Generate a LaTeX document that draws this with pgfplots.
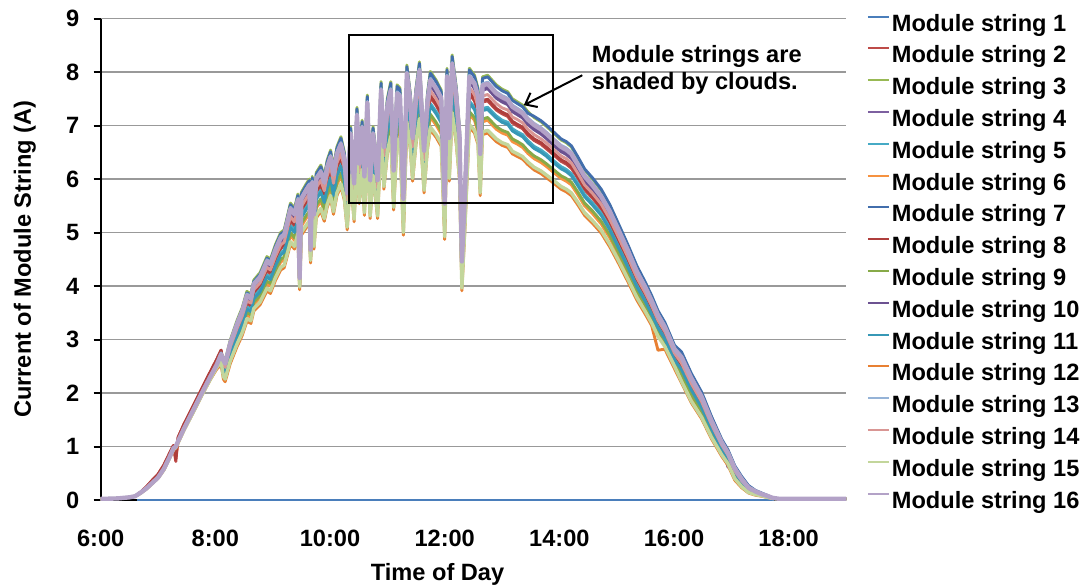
\documentclass[border=0pt]{standalone}
\usepackage{fontspec}
\setmainfont{Liberation Sans}
\usepackage{pgfplots}
\usepackage{pgfplotstable}
\pgfplotsset{compat=1.18}
\usetikzlibrary{arrows.meta}

% Excel 2007 style series colours
\definecolor{c1}{RGB}{74,126,187}
\definecolor{c2}{RGB}{190,75,72}
\definecolor{c3}{RGB}{152,185,84}
\definecolor{c4}{RGB}{125,96,160}
\definecolor{c5}{RGB}{70,170,197}
\definecolor{c6}{RGB}{246,146,64}
\definecolor{c7}{RGB}{66,110,172}
\definecolor{c8}{RGB}{175,62,60}
\definecolor{c9}{RGB}{135,170,72}
\definecolor{c10}{RGB}{108,82,145}
\definecolor{c11}{RGB}{55,152,182}
\definecolor{c12}{RGB}{232,128,50}
\definecolor{c13}{RGB}{149,179,215}
\definecolor{c14}{RGB}{217,150,148}
\definecolor{c15}{RGB}{195,214,155}
\definecolor{c16}{RGB}{179,162,199}

\newcommand{\chartfont}{\fontsize{11.8}{14}\selectfont\bfseries}

% string currents (A) over time of day (h); string 1 stays at zero
\pgfplotstableread{
t s2 s3 s4 s5 s6 s7 s8 s9 s10 s11 s12 s13 s14 s15 s16
6.00 0.02 0.02 0.02 0.02 0.02 0.02 0.02 0.02 0.02 0.02 0.02 0.02 0.02 0.02 0.02
6.30 0.03 0.03 0.03 0.03 0.03 0.03 0.03 0.03 0.03 0.03 0.03 0.03 0.03 0.03 0.03
6.50 0.05 0.05 0.05 0.05 0.05 0.05 0.05 0.05 0.05 0.05 0.05 0.05 0.05 0.05 0.05
6.60 0.07 0.07 0.07 0.07 0.07 0.07 0.07 0.07 0.07 0.07 0.07 0.07 0.07 0.07 0.07
6.70 0.15 0.14 0.14 0.14 0.13 0.14 0.15 0.14 0.14 0.14 0.13 0.14 0.14 0.13 0.14
6.80 0.25 0.22 0.22 0.22 0.21 0.22 0.25 0.22 0.22 0.22 0.21 0.22 0.22 0.21 0.22
6.90 0.37 0.32 0.32 0.32 0.31 0.32 0.37 0.32 0.32 0.32 0.31 0.32 0.32 0.31 0.32
7.00 0.48 0.42 0.42 0.42 0.41 0.42 0.48 0.42 0.42 0.42 0.41 0.42 0.42 0.41 0.42
7.10 0.65 0.58 0.58 0.58 0.56 0.58 0.65 0.58 0.58 0.58 0.56 0.58 0.58 0.56 0.58
7.20 0.87 0.80 0.80 0.80 0.78 0.80 0.87 0.80 0.80 0.80 0.78 0.80 0.80 0.78 0.80
7.27 1.02 0.97 0.97 0.97 0.94 0.97 1.02 0.97 0.97 0.97 0.94 0.97 0.97 0.94 0.97
7.31 0.72 1.00 1.00 1.00 0.85 1.00 0.76 1.00 1.00 1.00 0.97 1.00 1.00 0.98 1.00
7.35 1.17 1.10 1.10 1.10 1.07 1.10 1.17 1.10 1.10 1.10 1.07 1.10 1.10 1.07 1.10
7.45 1.41 1.33 1.33 1.33 1.30 1.33 1.41 1.33 1.33 1.33 1.30 1.33 1.33 1.30 1.33
7.60 1.73 1.65 1.65 1.65 1.61 1.65 1.73 1.65 1.65 1.65 1.61 1.65 1.65 1.61 1.65
7.75 2.05 1.97 1.97 1.97 1.93 1.97 2.05 1.97 1.97 1.97 1.93 1.97 1.97 1.93 1.97
7.90 2.37 2.28 2.28 2.28 2.23 2.28 2.37 2.28 2.28 2.28 2.23 2.28 2.28 2.23 2.28
8.02 2.62 2.52 2.52 2.50 2.46 2.52 2.62 2.49 2.52 2.50 2.44 2.52 2.51 2.47 2.52
8.10 2.80 2.75 2.67 2.66 2.57 2.72 2.80 2.62 2.63 2.62 2.53 2.75 2.69 2.58 2.72
8.14 2.50 2.66 2.56 2.46 2.34 2.63 2.53 2.39 2.52 2.42 2.26 2.64 2.54 2.31 2.61
8.17 2.44 2.60 2.50 2.41 2.29 2.57 2.47 2.34 2.46 2.37 2.21 2.58 2.48 2.26 2.55
8.26 2.81 2.99 2.88 2.77 2.64 2.96 2.84 2.69 2.84 2.73 2.55 2.96 2.86 2.60 2.93
8.38 3.16 3.36 3.24 3.11 2.97 3.33 3.19 3.02 3.20 3.07 2.87 3.32 3.21 2.92 3.29
8.47 3.38 3.60 3.48 3.33 3.19 3.57 3.41 3.24 3.44 3.29 3.08 3.56 3.44 3.13 3.53
8.55 3.67 3.90 3.77 3.61 3.46 3.87 3.70 3.51 3.73 3.57 3.34 3.85 3.72 3.39 3.82
8.62 3.62 3.85 3.72 3.56 3.41 3.82 3.65 3.46 3.68 3.52 3.30 3.80 3.68 3.35 3.77
8.67 3.86 4.11 3.98 3.80 3.65 4.08 3.89 3.70 3.94 3.76 3.53 4.06 3.93 3.58 4.03
8.78 3.99 4.25 4.11 3.93 3.77 4.22 4.02 3.82 4.07 3.89 3.65 4.19 4.06 3.70 4.16
8.90 4.28 4.55 4.41 4.21 4.04 4.52 4.31 4.09 4.37 4.17 3.91 4.49 4.35 3.96 4.46
8.96 4.23 4.50 4.36 4.16 4.00 4.47 4.26 4.05 4.32 4.12 3.86 4.44 4.30 3.91 4.41
9.05 4.49 4.78 4.63 4.42 4.25 4.75 4.52 4.30 4.59 4.38 4.11 4.71 4.56 4.16 4.68
9.14 4.70 5.00 4.85 4.62 4.45 4.97 4.73 4.50 4.81 4.58 4.30 4.93 4.77 4.35 4.90
9.20 4.75 5.05 4.90 4.67 4.49 5.02 4.78 4.54 4.86 4.63 4.34 4.98 4.82 4.39 4.95
9.31 5.22 5.55 5.39 5.13 4.95 5.52 5.25 5.00 5.35 5.09 4.78 5.47 5.30 4.83 5.44
9.38 5.12 5.45 5.29 5.04 4.85 5.42 5.15 4.90 5.25 5.00 4.69 5.37 5.20 4.74 5.34
9.44 5.38 5.72 5.56 5.29 5.10 5.69 5.41 5.15 5.52 5.25 4.93 5.64 5.46 4.98 5.61
9.47 4.08 4.20 4.10 4.05 3.97 4.17 4.11 4.02 4.06 4.01 3.93 4.18 4.10 3.98 4.15
9.50 5.40 5.75 5.58 5.32 5.12 5.72 5.43 5.17 5.54 5.28 4.95 5.66 5.49 5.00 5.63
9.58 5.55 5.90 5.73 5.46 5.26 5.87 5.58 5.31 5.69 5.42 5.08 5.81 5.63 5.13 5.78
9.64 5.64 6.00 5.83 5.55 5.35 5.97 5.67 5.40 5.79 5.51 5.17 5.91 5.73 5.22 5.88
9.66 4.60 4.75 4.63 4.57 4.48 4.72 4.63 4.53 4.59 4.53 4.43 4.71 4.62 4.48 4.68
9.69 5.69 6.05 5.88 5.60 5.39 6.02 5.72 5.44 5.84 5.56 5.21 5.96 5.78 5.26 5.93
9.72 5.12 5.45 5.29 5.04 4.85 5.42 5.15 4.90 5.25 5.00 4.69 5.37 5.20 4.74 5.34
9.76 5.75 6.12 5.95 5.66 5.46 6.09 5.78 5.51 5.91 5.62 5.27 6.03 5.84 5.32 6.00
9.84 5.88 6.26 6.08 5.79 5.58 6.23 5.91 5.63 6.04 5.75 5.40 6.16 5.98 5.45 6.13
9.90 5.69 6.05 5.88 5.60 5.39 6.02 5.72 5.44 5.84 5.56 5.21 5.96 5.78 5.26 5.93
9.95 5.97 6.35 6.17 5.87 5.66 6.32 6.00 5.71 6.13 5.83 5.47 6.25 6.06 5.52 6.22
10.01 6.15 6.54 6.36 6.05 5.84 6.51 6.18 5.89 6.32 6.01 5.64 6.44 6.25 5.69 6.41
10.06 5.83 6.20 6.03 5.73 5.53 6.17 5.86 5.58 5.99 5.69 5.34 6.11 5.92 5.39 6.08
10.12 6.20 6.60 6.42 6.10 5.89 6.57 6.23 5.94 6.38 6.06 5.69 6.50 6.30 5.74 6.47
10.19 6.38 6.79 6.60 6.28 6.06 6.76 6.41 6.11 6.56 6.24 5.86 6.68 6.48 5.91 6.65
10.25 6.11 6.50 6.32 6.01 5.80 6.47 6.14 5.85 6.28 5.97 5.60 6.40 6.21 5.65 6.37
10.30 5.51 5.86 5.69 5.42 5.22 5.83 5.54 5.27 5.65 5.38 5.05 5.77 5.60 5.10 5.74
10.36 6.56 6.98 6.79 6.46 6.23 6.95 6.59 6.28 6.75 6.42 6.02 6.87 6.67 6.07 6.84
10.42 5.68 6.04 5.87 5.59 5.39 6.01 5.71 5.44 5.83 5.55 5.20 5.95 5.77 5.25 5.92
10.47 6.90 7.34 7.14 6.79 6.56 7.31 6.93 6.61 7.10 6.75 6.34 7.22 7.01 6.39 7.19
10.51 6.03 6.42 6.24 5.94 5.73 6.39 6.06 5.78 6.20 5.90 5.54 6.32 6.13 5.59 6.29
10.56 6.67 7.10 6.91 6.57 6.34 7.07 6.70 6.39 6.87 6.53 6.13 6.99 6.78 6.18 6.96
10.60 5.80 6.17 6.00 5.71 5.50 6.14 5.83 5.55 5.96 5.67 5.32 6.08 5.89 5.37 6.05
10.65 7.12 7.57 7.37 7.00 6.76 7.54 7.15 6.81 7.33 6.96 6.54 7.45 7.23 6.59 7.42
10.70 5.73 6.10 5.93 5.64 5.44 6.07 5.76 5.49 5.89 5.60 5.26 6.01 5.83 5.31 5.98
10.75 6.56 6.98 6.79 6.46 6.23 6.95 6.59 6.28 6.75 6.42 6.02 6.87 6.67 6.07 6.84
10.79 6.20 6.60 6.42 6.10 5.89 6.57 6.23 5.94 6.38 6.06 5.69 6.50 6.30 5.74 6.47
10.83 5.73 6.10 5.93 5.64 5.44 6.07 5.76 5.49 5.89 5.60 5.26 6.01 5.83 5.31 5.98
10.89 7.35 7.82 7.61 7.23 6.99 7.79 7.38 7.04 7.57 7.19 6.75 7.69 7.47 6.80 7.66
10.94 6.33 6.73 6.55 6.23 6.01 6.70 6.36 6.06 6.51 6.19 5.81 6.63 6.43 5.86 6.60
11.00 7.05 7.50 7.30 6.94 6.70 7.47 7.08 6.75 7.26 6.90 6.47 7.38 7.16 6.52 7.35
11.06 7.35 7.82 7.61 7.23 6.99 7.79 7.38 7.04 7.57 7.19 6.75 7.69 7.47 6.80 7.66
11.11 5.91 6.29 6.11 5.82 5.61 6.26 5.94 5.66 6.07 5.78 5.42 6.19 6.01 5.47 6.16
11.17 7.29 7.76 7.55 7.18 6.93 7.73 7.32 6.98 7.51 7.14 6.70 7.63 7.41 6.75 7.60
11.22 7.24 7.70 7.50 7.12 6.88 7.67 7.27 6.93 7.46 7.08 6.65 7.58 7.35 6.70 7.55
11.28 5.40 5.75 5.58 5.32 5.12 5.72 5.43 5.17 5.54 5.28 4.95 5.66 5.49 5.00 5.63
11.34 7.64 8.13 7.92 7.52 7.27 8.10 7.67 7.32 7.88 7.48 7.02 8.00 7.76 7.07 7.97
11.40 7.14 7.60 7.40 7.03 6.79 7.57 7.17 6.84 7.36 6.99 6.56 7.48 7.26 6.61 7.45
11.44 6.50 6.91 6.72 6.39 6.17 6.88 6.53 6.22 6.68 6.35 5.96 6.80 6.60 6.01 6.77
11.50 7.24 7.70 7.50 7.12 6.88 7.67 7.27 6.93 7.46 7.08 6.65 7.58 7.35 6.70 7.55
11.56 7.70 8.19 7.98 7.58 7.32 8.16 7.73 7.37 7.94 7.54 7.08 8.06 7.82 7.13 8.03
11.64 6.26 6.66 6.48 6.16 5.94 6.63 6.29 5.99 6.44 6.12 5.74 6.56 6.36 5.79 6.53
11.70 7.14 7.60 7.40 7.03 6.79 7.57 7.17 6.84 7.36 6.99 6.56 7.48 7.26 6.61 7.45
11.75 7.53 8.01 7.80 7.41 7.16 7.98 7.56 7.21 7.76 7.37 6.92 7.88 7.65 6.97 7.85
11.85 7.38 7.85 7.64 7.26 7.01 7.82 7.41 7.06 7.60 7.22 6.78 7.72 7.50 6.83 7.69
11.94 7.20 7.66 7.46 7.09 6.84 7.63 7.23 6.89 7.42 7.05 6.61 7.54 7.32 6.66 7.51
12.00 5.31 5.65 5.49 5.23 5.03 5.62 5.34 5.08 5.45 5.19 4.87 5.57 5.40 4.92 5.54
12.04 7.59 8.07 7.86 7.46 7.21 8.04 7.62 7.26 7.82 7.42 6.97 7.94 7.71 7.02 7.91
12.08 6.50 6.91 6.72 6.39 6.17 6.88 6.53 6.22 6.68 6.35 5.96 6.80 6.60 6.01 6.77
12.13 7.82 8.32 8.10 7.70 7.44 8.29 7.85 7.49 8.06 7.66 7.19 8.18 7.95 7.24 8.15
12.20 7.27 7.73 7.53 7.15 6.91 7.70 7.30 6.96 7.49 7.11 6.68 7.61 7.38 6.73 7.58
12.26 6.50 6.91 6.72 6.39 6.17 6.88 6.53 6.22 6.68 6.35 5.96 6.80 6.60 6.01 6.77
12.30 4.28 4.55 4.41 4.21 4.04 4.52 4.31 4.09 4.37 4.17 3.91 4.49 4.35 3.96 4.46
12.35 5.45 5.80 5.63 5.36 5.17 5.77 5.48 5.22 5.59 5.32 5.00 5.71 5.54 5.05 5.68
12.43 7.59 8.07 7.86 7.46 7.21 8.04 7.62 7.26 7.82 7.42 6.97 7.94 7.71 7.02 7.91
12.52 7.46 7.94 7.73 7.34 7.10 7.91 7.49 7.15 7.69 7.30 6.86 7.81 7.58 6.91 7.78
12.58 7.24 7.70 7.50 7.12 6.88 7.67 7.27 6.93 7.46 7.08 6.65 7.58 7.35 6.70 7.55
12.62 6.20 6.60 6.42 6.10 5.89 6.57 6.23 5.94 6.38 6.06 5.69 6.50 6.30 5.74 6.47
12.66 7.44 7.91 7.70 7.32 7.07 7.88 7.47 7.12 7.66 7.28 6.83 7.78 7.55 6.88 7.75
12.75 7.46 7.94 7.73 7.34 7.10 7.91 7.49 7.15 7.69 7.30 6.86 7.81 7.58 6.91 7.78
12.90 7.29 7.76 7.55 7.18 6.93 7.73 7.32 6.98 7.51 7.14 6.70 7.63 7.41 6.75 7.60
13.00 7.22 7.68 7.48 7.10 6.86 7.65 7.25 6.91 7.44 7.06 6.63 7.56 7.33 6.68 7.53
13.10 7.17 7.63 7.43 7.06 6.82 7.60 7.20 6.87 7.39 7.02 6.59 7.51 7.29 6.64 7.48
13.18 7.05 7.50 7.30 6.94 6.70 7.47 7.08 6.75 7.26 6.90 6.47 7.38 7.16 6.52 7.35
13.27 6.99 7.44 7.24 6.88 6.65 7.41 7.02 6.70 7.20 6.84 6.42 7.32 7.11 6.47 7.29
13.36 6.94 7.38 7.18 6.83 6.59 7.35 6.97 6.64 7.14 6.79 6.37 7.26 7.05 6.42 7.23
13.45 6.82 7.26 7.06 6.72 6.48 7.23 6.85 6.53 7.02 6.68 6.27 7.14 6.93 6.32 7.11
13.56 6.72 7.15 6.96 6.61 6.38 7.17 6.75 6.43 6.92 6.57 6.17 7.04 6.83 6.22 7.01
13.68 6.65 7.07 6.88 6.54 6.31 7.09 6.68 6.36 6.84 6.50 6.10 6.96 6.75 6.15 6.93
13.78 6.56 6.98 6.79 6.46 6.23 7.00 6.59 6.28 6.75 6.42 6.02 6.87 6.67 6.07 6.84
13.88 6.47 6.88 6.69 6.36 6.14 6.90 6.50 6.19 6.65 6.32 5.94 6.77 6.57 5.99 6.74
14.03 6.33 6.73 6.55 6.23 6.01 6.75 6.36 6.06 6.51 6.19 5.81 6.63 6.43 5.86 6.60
14.12 6.28 6.68 6.50 6.18 5.96 6.70 6.31 6.01 6.46 6.14 5.76 6.58 6.38 5.81 6.55
14.21 6.20 6.60 6.42 6.10 5.89 6.62 6.23 5.94 6.38 6.06 5.69 6.50 6.30 5.74 6.47
14.32 6.02 6.40 6.22 5.92 5.71 6.42 6.05 5.76 6.18 5.88 5.52 6.30 6.11 5.57 6.27
14.44 5.80 6.17 6.00 5.71 5.50 6.19 5.83 5.55 5.96 5.67 5.32 6.08 5.89 5.37 6.05
14.58 5.64 6.00 5.83 5.55 5.35 6.02 5.67 5.40 5.79 5.51 5.17 5.91 5.73 5.22 5.88
14.73 5.44 5.79 5.62 5.36 5.16 5.81 5.47 5.21 5.58 5.32 4.99 5.70 5.53 5.04 5.67
14.88 5.17 5.50 5.34 5.09 4.90 5.52 5.20 4.95 5.30 5.05 4.73 5.42 5.25 4.78 5.39
15.02 4.86 5.17 5.02 4.78 4.60 5.19 4.89 4.65 4.98 4.74 4.45 5.10 4.94 4.50 5.07
15.20 4.46 4.74 4.60 4.38 4.22 4.76 4.49 4.27 4.56 4.34 4.07 4.68 4.53 4.12 4.65
15.35 4.10 4.36 4.22 4.03 3.87 4.38 4.13 3.92 4.18 3.99 3.74 4.30 4.16 3.79 4.27
15.50 3.81 4.05 3.92 3.75 3.59 4.07 3.84 3.64 3.88 3.71 3.47 4.00 3.87 3.52 3.97
15.61 3.57 3.80 3.67 3.51 3.37 3.82 3.60 3.42 3.63 3.47 3.26 3.75 3.63 3.31 3.72
15.72 3.31 3.52 3.40 3.26 3.12 3.54 3.34 3.17 3.36 3.22 2.80 3.48 3.36 3.06 3.45
15.84 3.10 3.30 3.18 3.05 2.92 3.32 3.13 2.97 3.14 3.01 2.82 3.26 3.15 2.87 3.23
16.01 2.70 2.87 2.76 2.65 2.53 2.89 2.73 2.58 2.72 2.61 2.45 2.84 2.74 2.50 2.81
16.13 2.51 2.75 2.64 2.46 2.32 2.77 2.53 2.35 2.62 2.44 2.19 2.69 2.56 2.22 2.67
16.30 2.13 2.35 2.25 2.08 1.95 2.37 2.15 1.98 2.23 2.06 1.82 2.30 2.18 1.85 2.28
16.48 1.80 2.00 1.90 1.75 1.63 2.02 1.82 1.66 1.88 1.73 1.52 1.95 1.84 1.55 1.93
16.65 1.38 1.55 1.46 1.35 1.24 1.57 1.40 1.27 1.44 1.33 1.15 1.51 1.42 1.18 1.49
16.83 1.00 1.12 1.05 0.97 0.89 1.14 1.02 0.92 1.03 0.95 0.82 1.10 1.03 0.85 1.08
16.94 0.81 0.92 0.85 0.79 0.71 0.94 0.83 0.74 0.62 0.77 0.65 0.90 0.84 0.68 0.88
17.06 0.52 0.62 0.56 0.50 0.43 0.64 0.54 0.46 0.54 0.48 0.37 0.61 0.54 0.40 0.59
17.18 0.34 0.42 0.37 0.33 0.27 0.44 0.36 0.29 0.35 0.31 0.23 0.41 0.36 0.25 0.39
17.30 0.20 0.25 0.22 0.19 0.16 0.27 0.21 0.17 0.21 0.18 0.13 0.24 0.21 0.14 0.23
17.42 0.14 0.17 0.15 0.13 0.11 0.18 0.15 0.12 0.14 0.13 0.09 0.17 0.15 0.10 0.16
17.53 0.10 0.12 0.11 0.10 0.09 0.13 0.11 0.09 0.10 0.10 0.07 0.12 0.11 0.08 0.11
17.62 0.07 0.08 0.08 0.06 0.06 0.09 0.07 0.06 0.07 0.06 0.05 0.08 0.07 0.05 0.08
17.72 0.04 0.04 0.04 0.03 0.03 0.04 0.04 0.03 0.04 0.03 0.03 0.04 0.04 0.03 0.04
17.85 0.02 0.02 0.02 0.02 0.02 0.02 0.02 0.02 0.02 0.02 0.02 0.02 0.02 0.02 0.02
19.00 0.02 0.02 0.02 0.02 0.02 0.02 0.02 0.02 0.02 0.02 0.02 0.02 0.02 0.02 0.02
}\strings

\begin{document}
\begin{tikzpicture}
\path[use as bounding box] (-50.35pt,-42pt) rectangle (494.65pt,250pt);
\begin{axis}[
    at={(0pt,0pt)}, anchor=south west,
    scale only axis,
    width=372.65pt, height=240.75pt,
    xmin=6, xmax=19, ymin=0, ymax=9,
    axis lines=left,
    axis line style={-, black, line width=1.1pt},
    xtick={6,8,10,12,14,16,18},
    xticklabels={6:00,8:00,10:00,12:00,14:00,16:00,18:00},
    ytick={0,1,2,3,4,5,6,7,8,9},
    yticklabels={0,1,2,3,4,5,6,7,8,9},
    tick align=outside,
    major tick length=3.5pt,
    xtick style={draw=none},
    ytick style={black, line width=1pt},
    ymajorgrids,
    major grid style={black!40, line width=0.7pt},
    ticklabel style={font=\chartfont},
    yticklabel style={inner sep=0pt, xshift=-7pt},
    xticklabel style={inner sep=0pt, yshift=-11.5pt},
    xlabel={Time of Day},
    ylabel={Current of Module String (A)},
    label style={font=\chartfont},
    xlabel style={at={(rel axis cs:0.452,0)}, anchor=base, yshift=-40pt},
    ylabel style={at={(rel axis cs:-0.0937,0.5)}, anchor=base},
    every axis plot/.append style={line width=1.45pt, line join=round, mark=none},
    legend style={at={(1,0)}, anchor=south west, xshift=9.6pt, yshift=-7.4pt,
        draw=none, fill=none, inner sep=0pt, row sep=3.4pt, font=\chartfont,
        nodes={inner sep=0.75pt, text height=8.6pt, text depth=2.4pt}},
    legend cell align=left,
    legend image code/.code={\draw[#1, line width=1pt] (0pt,4.2pt) -- (10.8pt,4.2pt); \path (0pt,0pt);},
]
\addplot[c1] coordinates {(6.63,0) (17.74,0)};
\addlegendentry{Module string 1}
\addplot[c2] table[x=t,y=s2] {\strings};
\addlegendentry{Module string 2}
\addplot[c3] table[x=t,y=s3] {\strings};
\addlegendentry{Module string 3}
\addplot[c4] table[x=t,y=s4] {\strings};
\addlegendentry{Module string 4}
\addplot[c5] table[x=t,y=s5] {\strings};
\addlegendentry{Module string 5}
\addplot[c6] table[x=t,y=s6] {\strings};
\addlegendentry{Module string 6}
\addplot[c7] table[x=t,y=s7] {\strings};
\addlegendentry{Module string 7}
\addplot[c8] table[x=t,y=s8] {\strings};
\addlegendentry{Module string 8}
\addplot[c9] table[x=t,y=s9] {\strings};
\addlegendentry{Module string 9}
\addplot[c10] table[x=t,y=s10] {\strings};
\addlegendentry{Module string 10}
\addplot[c11] table[x=t,y=s11] {\strings};
\addlegendentry{Module string 11}
\addplot[c12] table[x=t,y=s12] {\strings};
\addlegendentry{Module string 12}
\addplot[c13] table[x=t,y=s13] {\strings};
\addlegendentry{Module string 13}
\addplot[c14] table[x=t,y=s14] {\strings};
\addlegendentry{Module string 14}
\addplot[c15, line width=1.7pt] table[x=t,y=s15] {\strings};
\addlegendentry{Module string 15}
\addplot[c16, line width=2.2pt] table[x=t,y=s16] {\strings};
\addlegendentry{Module string 16}

% annotation: cloud-shaded period
\draw[black, line width=0.75pt] (axis cs:10.33,5.55) rectangle (axis cs:13.89,8.69);
\draw[black, line width=1pt, -{Straight Barb[length=5pt,width=8pt]}]
    (axis cs:14.40,7.94) -- (axis cs:13.38,7.38);
\node[font=\chartfont, anchor=base west, inner sep=0pt] at (axis cs:14.56,8.18) {Module strings are};
\node[font=\chartfont, anchor=base west, inner sep=0pt] at (axis cs:14.56,7.67) {shaded by clouds.};
\end{axis}
\end{tikzpicture}
\end{document}
